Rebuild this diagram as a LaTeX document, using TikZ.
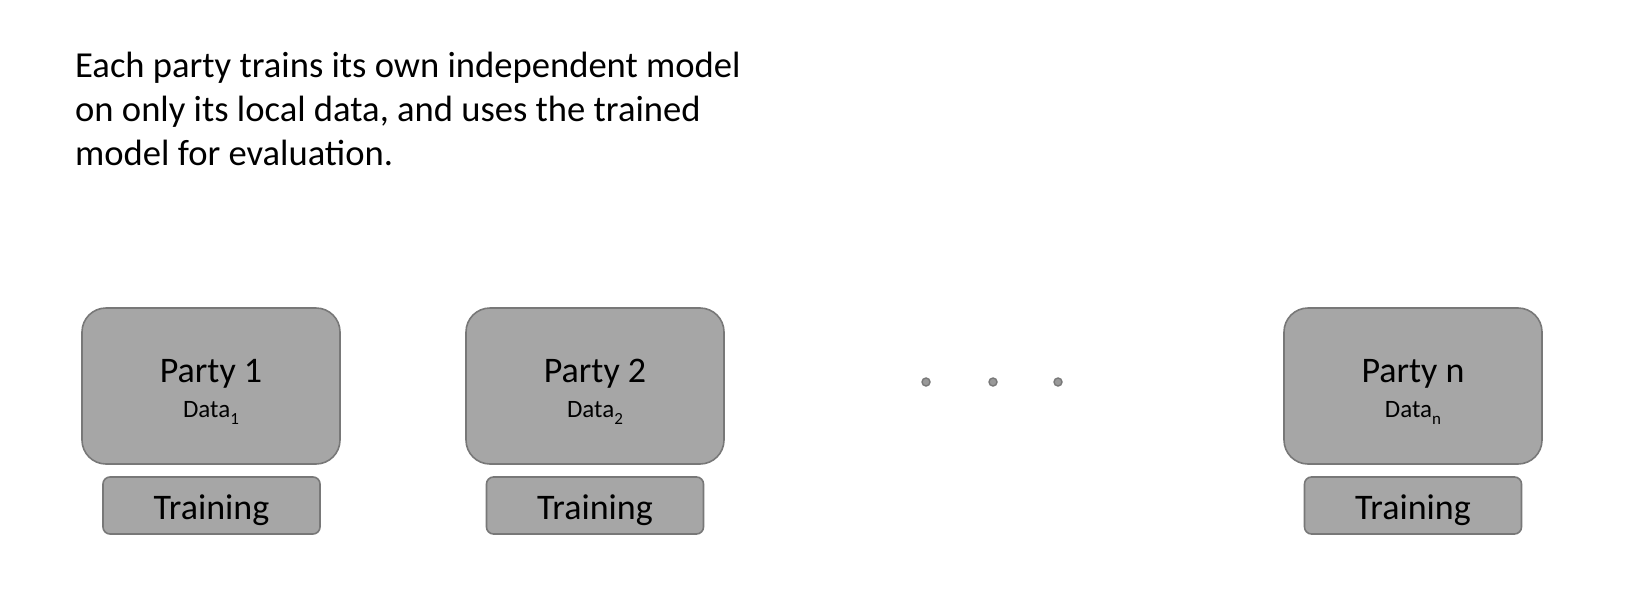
\documentclass[tikz,border=0pt]{standalone}
\usepackage{fontspec}
\setmainfont{Carlito}
\definecolor{boxgray}{HTML}{A6A6A6}
\definecolor{edgegray}{HTML}{787878}
\definecolor{dotgray}{HTML}{999999}
\newcommand{\datasub}[1]{Data\raisebox{-0.28em}{\fontsize{17}{20}\selectfont #1}}
\tikzset{
  partybox/.style={draw=edgegray, fill=boxgray, line width=1.6pt, rounded corners=24pt,
    minimum width=258pt, minimum height=156pt, inner sep=0pt},
  trainbox/.style={draw=edgegray, fill=boxgray, line width=1.6pt, rounded corners=7pt,
    minimum width=217pt, minimum height=57pt, inner sep=0pt},
  bigtext/.style={font=\fontsize{36}{43}\selectfont, anchor=base, inner sep=0pt},
  smalltext/.style={font=\fontsize{25}{30}\selectfont, anchor=base, inner sep=0pt},
  gapdot/.style={circle, draw=edgegray, fill=dotgray, line width=1.4pt,
    minimum size=8pt, inner sep=0pt}
}
\begin{document}
\begin{tikzpicture}[x=1pt, y=-1pt]
\useasboundingbox (0, 0) rectangle (1648, 613);
% description
\node[anchor=base west, align=left, inner sep=0pt, font=\fontsize{36.6}{44}\selectfont] (caption) at (75, 165)
  {Each party trains its own independent model\\on only its local data, and uses the trained\\model for evaluation.};
% party 1
\node[partybox] (party1) at (211, 386) {};
\node[bigtext] (name1) at (211, 382) {Party 1};
\node[smalltext] (data1) at (211, 417) {\datasub{1}};
\node[trainbox] (train1) at (211.5, 505.5) {};
\node[bigtext] (tlabel1) at (211.5, 519) {Training};
% party 2
\node[partybox] (party2) at (595, 386) {};
\node[bigtext] (name2) at (595, 382) {Party 2};
\node[smalltext] (data2) at (595, 417) {\datasub{2}};
\node[trainbox] (train2) at (595, 505.5) {};
\node[bigtext] (tlabel2) at (595, 519) {Training};
% dots
\node[gapdot] (gap1) at (926, 382) {};
\node[gapdot] (gap2) at (993, 382) {};
\node[gapdot] (gap3) at (1058, 382) {};
% party n
\node[partybox] (partyn) at (1413, 386) {};
\node[bigtext] (namen) at (1413, 382) {Party n};
\node[smalltext] (datan) at (1413, 417) {\datasub{n}};
\node[trainbox] (trainn) at (1413, 505.5) {};
\node[bigtext] (tlabeln) at (1413, 519) {Training};
\end{tikzpicture}
\end{document}
